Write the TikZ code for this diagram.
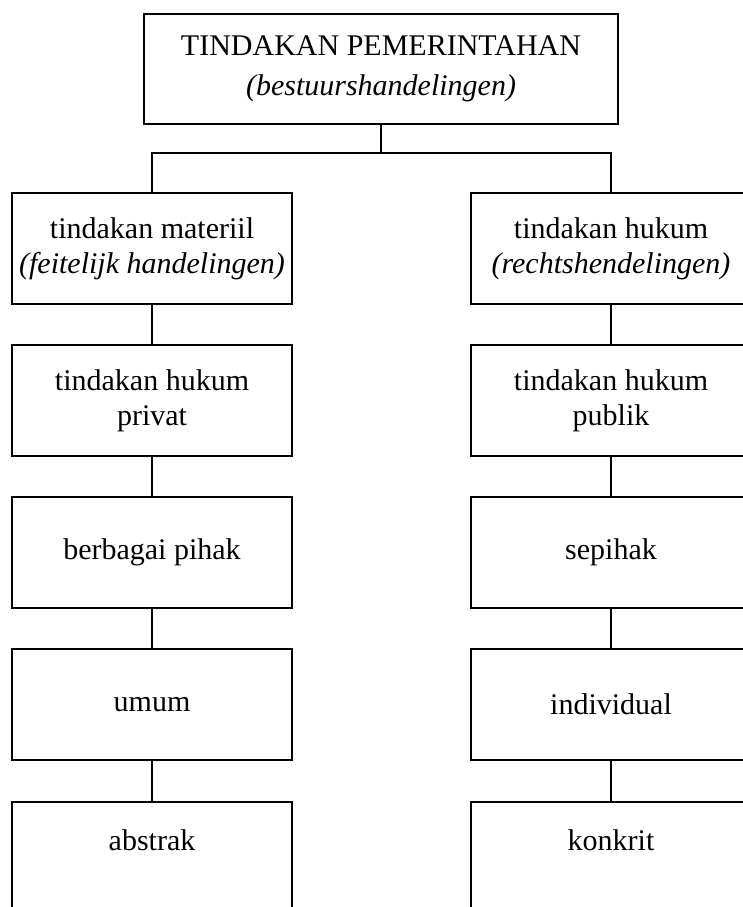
\documentclass[tikz,border=0pt]{standalone}
\usepackage{fontspec}
\setmainfont{Liberation Serif}
\begin{document}
\begin{tikzpicture}[x=1pt,y=-1pt,
    box/.style={draw, line width=1.5pt, inner sep=0pt, outer sep=0pt,
        minimum width=280pt, minimum height=111pt, align=center,
        font=\fontsize{30}{35}\selectfont},
    link/.style={line width=1.5pt}]
        \clip (0,0) rectangle (743,907);
        \node[box, minimum width=474pt, minimum height=110pt,
            font=\fontsize{30}{40}\selectfont] (tindakan) at (381,69)
            {TINDAKAN PEMERINTAHAN\\\textit{(bestuurshandelingen)}};
        % kiri
        \node[box] (materiil) at (152,248.5) {tindakan materiil\\\textit{(feitelijk handelingen)}};
        \node[box] (privat) at (152,400.5) {tindakan hukum\\privat};
        \node[box] (berbagai) at (152,552.5) {berbagai pihak};
        \node[box] (umum) at (152,704.5) {umum};
        \node[box] (abstrak) at (152,857.5) {};
        \node[font=\fontsize{30}{35}\selectfont] (abstraktxt) at ([yshift=-38pt]abstrak.north) {abstrak};
        % kanan
        \node[box] (hukum) at (611,248.5) {tindakan hukum\\\textit{(rechtshendelingen)}};
        \node[box] (publik) at (611,400.5) {tindakan hukum\\publik};
        \node[box] (sepihak) at (611,552.5) {sepihak};
        \node[box] (individual) at (611,704.5) {individual};
        \node[box] (konkrit) at (611,857.5) {};
        \node[font=\fontsize{30}{35}\selectfont] (konkrittxt) at ([yshift=-38pt]konkrit.north) {konkrit};

        \draw[link] (tindakan.south) -- ++(0,29) coordinate (cabang);
        \draw[link] (materiil.north) |- (cabang) -| (hukum.north);
        \draw[link] (materiil) -- (privat);
        \draw[link] (privat) -- (berbagai);
        \draw[link] (berbagai) -- (umum);
        \draw[link] (umum) -- (abstrak);
        \draw[link] (hukum) -- (publik);
        \draw[link] (publik) -- (sepihak);
        \draw[link] (sepihak) -- (individual);
        \draw[link] (individual) -- (konkrit);
    \end{tikzpicture}
\end{document}
